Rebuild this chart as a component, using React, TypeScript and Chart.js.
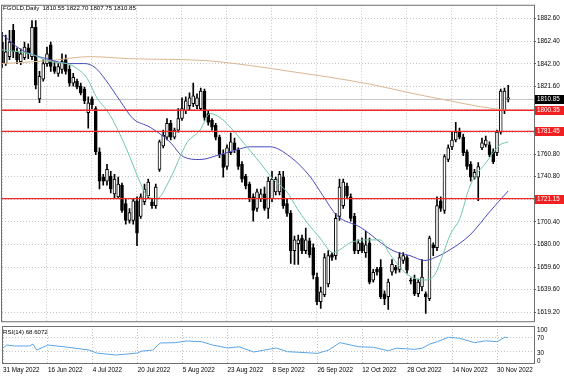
import React, { useEffect, useRef } from "react";
import { Chart, registerables } from "chart.js";

Chart.register(...registerables);

// ---------- DATA ----------
const opens = [
  1861.5, 1842.2, 1848.4, 1872.1, 1852.7, 1844.0, 1847.5, 1856.3, 1848.4, 1874.7,
  1810.6, 1828.2, 1842.2, 1858.9, 1839.6, 1833.4, 1837.0, 1845.7, 1837.0, 1824.7,
  1826.4, 1822.0, 1819.4, 1798.3, 1810.6, 1801.8, 1763.2, 1740.4, 1736.9, 1741.2,
  1725.4, 1722.8, 1733.3, 1716.7, 1701.7, 1701.7, 1719.3, 1705.3, 1718.4, 1723.7,
  1718.4, 1714.9, 1747.4, 1768.5, 1776.3, 1788.7, 1776.3, 1782.5, 1793.0, 1800.1,
  1804.5, 1806.2, 1804.5, 1801.8, 1817.6, 1797.4, 1791.3, 1786.9, 1776.3, 1760.6,
  1750.0, 1762.3, 1771.1, 1765.0, 1751.8, 1741.2, 1734.2, 1722.8, 1712.3, 1721.1,
  1725.4, 1712.3, 1721.1, 1727.2, 1727.2, 1740.4, 1716.7, 1707.9, 1674.5, 1680.7,
  1685.9, 1674.5, 1683.3, 1677.2, 1650.8, 1628.9, 1635.0, 1644.7, 1671.0, 1670.1,
  1705.3, 1714.9, 1732.5, 1722.8, 1705.3, 1674.5, 1681.5, 1672.8, 1681.5, 1648.2,
  1657.8, 1659.6, 1635.9, 1633.2, 1655.2, 1659.6, 1657.8, 1665.7, 1668.4, 1648.2,
  1649.1, 1635.9, 1642.0, 1635.9, 1631.5, 1679.8, 1677.2, 1719.3, 1710.5, 1756.2,
  1767.6, 1773.7, 1780.8, 1776.3, 1763.2, 1751.8, 1740.4, 1740.4, 1766.7, 1769.3,
  1769.3, 1763.2, 1762.3, 1780.8, 1800.1, 1810.55,
];
const highs = [
  1870.3, 1867.7, 1872.1, 1877.3, 1856.3, 1855.4, 1861.5, 1859.8, 1880.8, 1880.8,
  1835.2, 1845.7, 1857.1, 1861.5, 1844.0, 1842.2, 1851.0, 1850.1, 1840.5, 1833.4,
  1828.2, 1824.7, 1821.1, 1812.4, 1812.4, 1803.6, 1766.7, 1743.0, 1751.8, 1745.6,
  1743.0, 1740.4, 1735.1, 1721.1, 1712.3, 1721.1, 1722.8, 1725.4, 1734.2, 1738.6,
  1721.1, 1734.2, 1773.7, 1782.5, 1793.0, 1791.3, 1784.3, 1801.8, 1811.5, 1812.4,
  1815.9, 1824.7, 1815.0, 1820.3, 1819.4, 1800.1, 1793.0, 1788.7, 1778.1, 1765.0,
  1769.3, 1779.9, 1775.5, 1766.7, 1754.4, 1743.0, 1736.0, 1725.4, 1729.8, 1729.8,
  1731.6, 1740.4, 1745.6, 1740.4, 1745.6, 1745.6, 1721.1, 1710.5, 1687.7, 1688.6,
  1688.6, 1694.7, 1685.9, 1680.7, 1654.4, 1642.0, 1671.9, 1674.5, 1672.8, 1707.9,
  1738.6, 1738.6, 1735.1, 1725.4, 1707.9, 1684.2, 1685.9, 1692.1, 1685.9, 1657.8,
  1659.6, 1666.6, 1638.5, 1649.1, 1666.6, 1661.3, 1672.8, 1672.8, 1670.1, 1649.9,
  1652.6, 1649.1, 1666.6, 1637.6, 1687.7, 1681.5, 1722.8, 1722.8, 1760.6, 1769.3,
  1780.8, 1789.5, 1784.3, 1779.0, 1765.0, 1754.4, 1747.4, 1753.5, 1775.5, 1777.2,
  1772.0, 1765.8, 1782.5, 1819.4, 1820.3, 1822.7,
];
const lows = [
  1838.7, 1840.5, 1845.7, 1847.5, 1842.2, 1841.3, 1845.7, 1846.6, 1845.7, 1819.4,
  1807.1, 1826.4, 1839.6, 1835.2, 1833.4, 1830.8, 1833.4, 1832.6, 1822.0, 1822.0,
  1819.4, 1814.1, 1806.2, 1784.3, 1801.8, 1760.6, 1729.8, 1733.3, 1733.3, 1726.3,
  1721.1, 1721.1, 1708.7, 1698.2, 1699.1, 1698.2, 1678.9, 1703.5, 1715.8, 1721.1,
  1712.3, 1712.3, 1745.6, 1766.7, 1773.7, 1773.7, 1774.6, 1780.8, 1791.3, 1797.4,
  1800.1, 1803.6, 1801.8, 1800.1, 1791.3, 1786.9, 1782.5, 1773.7, 1757.9, 1740.4,
  1747.4, 1760.6, 1762.3, 1747.4, 1736.0, 1729.8, 1718.4, 1700.9, 1709.6, 1718.4,
  1710.5, 1703.5, 1718.4, 1724.6, 1724.6, 1712.3, 1705.3, 1663.1, 1662.2, 1662.2,
  1671.9, 1671.9, 1668.4, 1649.1, 1626.2, 1622.7, 1633.2, 1642.0, 1665.7, 1666.6,
  1701.7, 1712.3, 1721.1, 1700.9, 1671.9, 1671.9, 1672.8, 1668.4, 1644.7, 1646.4,
  1652.6, 1631.5, 1626.2, 1621.8, 1652.6, 1654.4, 1655.2, 1663.1, 1654.4, 1644.7,
  1634.1, 1633.2, 1638.5, 1618.3, 1629.7, 1670.1, 1674.5, 1709.6, 1707.9, 1754.4,
  1765.0, 1772.0, 1774.6, 1759.7, 1747.4, 1736.9, 1738.6, 1719.3, 1765.0, 1767.6,
  1758.8, 1752.6, 1759.7, 1779.0, 1797.4, 1807.75,
];
const closes = [
  1842.2, 1852.7, 1861.5, 1852.7, 1845.7, 1851.0, 1857.1, 1851.0, 1874.7, 1822.9,
  1830.8, 1842.2, 1851.0, 1839.6, 1835.2, 1839.6, 1844.0, 1835.2, 1824.7, 1829.9,
  1821.1, 1815.9, 1808.8, 1807.1, 1805.3, 1763.2, 1736.9, 1736.9, 1747.4, 1729.8,
  1738.6, 1734.2, 1710.5, 1701.7, 1708.7, 1719.3, 1690.3, 1722.8, 1729.8, 1736.0,
  1714.9, 1731.6, 1772.0, 1778.1, 1788.7, 1776.3, 1782.5, 1793.0, 1801.8, 1808.8,
  1811.5, 1813.2, 1811.5, 1817.6, 1793.9, 1789.5, 1785.1, 1776.3, 1760.6, 1749.1,
  1766.7, 1772.0, 1765.0, 1750.0, 1738.6, 1732.5, 1721.1, 1710.5, 1727.2, 1725.4,
  1712.3, 1736.9, 1738.6, 1738.6, 1743.0, 1714.9, 1707.9, 1674.5, 1684.2, 1684.2,
  1674.5, 1684.2, 1671.0, 1652.6, 1628.9, 1637.6, 1668.4, 1670.1, 1668.4, 1703.5,
  1731.6, 1736.0, 1723.7, 1703.5, 1674.5, 1681.5, 1674.5, 1679.8, 1646.4, 1655.2,
  1655.2, 1633.2, 1631.5, 1646.4, 1662.2, 1657.0, 1668.4, 1670.1, 1657.0, 1647.3,
  1635.9, 1646.4, 1650.8, 1633.2, 1685.9, 1677.2, 1714.9, 1712.3, 1758.8, 1766.7,
  1773.7, 1780.8, 1776.3, 1762.3, 1750.0, 1740.4, 1744.8, 1750.0, 1771.1, 1773.7,
  1760.6, 1754.4, 1780.8, 1817.6, 1817.6, 1810.85,
];

// moving averages (bar index, price)
const maSlowX = [0, 12.8, 23.5, 34.1, 54.1, 66.1, 76.8, 87.5, 98.1, 108.8, 119.5, 127.5, 135];
const maSlowY = [1842.2, 1844.9, 1848.4, 1846.6, 1844.9, 1840.5, 1835.2, 1829.9, 1823.8, 1815.9, 1808.8, 1803.6, 1800.1];

const maMidX = [0, 4.8, 12.8, 18.1, 22.1, 24.8, 27.5, 31.5, 34.9, 39.5, 44.8, 48.3, 52.8, 58.1, 62.7, 66.1, 71.5, 76.8, 82.1, 85.6, 89.3, 95.5, 104.3, 108.8, 112.8, 115.5, 119.5, 124.8, 130.1, 135];
const maMidY = [1868.6, 1855.4, 1845.7, 1842.2, 1842.2, 1838.7, 1828.2, 1808.8, 1793.0, 1785.1, 1771.9, 1758.8, 1756.2, 1760.6, 1765.0, 1767.6, 1767.6, 1758.8, 1741.2, 1723.7, 1706.1, 1695.6, 1674.5, 1670.1, 1665.7, 1668.4, 1675.4, 1688.6, 1709.6, 1728.1];

const maFastX = [0, 7.5, 12.8, 17.3, 20, 22.7, 25.3, 28, 29.6, 33.3, 36.8, 38.7, 41.3, 44.8, 49.3, 52.8, 55.5, 58.1, 61.6, 65.3, 68.8, 72.3, 76, 78.7, 81.3, 84.8, 88.3, 90.1, 92.8, 97.3, 100.8, 103.5, 108, 112.8, 115.5, 117.3, 119.5, 122.1, 124.8, 129.3, 132.8, 135];
const maFastY = [1854.5, 1851.0, 1844.0, 1842.2, 1837.8, 1829.0, 1811.5, 1800.1, 1791.3, 1765.0, 1736.0, 1723.7, 1721.1, 1738.6, 1771.1, 1782.5, 1797.4, 1793.9, 1782.5, 1767.6, 1753.5, 1738.6, 1727.2, 1712.3, 1699.9, 1685.9, 1672.8, 1675.4, 1681.5, 1684.2, 1684.2, 1671.0, 1653.5, 1648.2, 1653.5, 1668.4, 1688.6, 1703.5, 1732.5, 1754.4, 1769.3, 1772.0];

const rsiX = [0, 1, 3, 7, 8, 9, 12, 17, 23, 25, 30, 32, 36, 37, 40, 42, 46, 49, 53, 56, 60, 63, 67, 71, 73, 76, 79, 84, 87, 90, 95, 99, 103, 105, 110, 112, 114, 116, 119, 122, 126, 129, 132, 134, 135];
const rsiY = [40.5, 48.6, 46, 46, 51, 35, 48.6, 43, 35, 27, 21.6, 23, 27, 32, 35, 54, 55, 59.5, 57.6, 48.6, 40.5, 44, 29.7, 37, 40.5, 30.5, 29, 26, 35, 55, 44, 42.4, 33, 40, 37, 40, 51, 57.6, 69.5, 66.8, 55, 60, 57.6, 69.5, 68.6];

const dateTickIndex = [0, 12, 24, 36, 48, 60, 72, 84, 96, 108, 120, 132];
const dateTickLabels = ["31 May 2022", "16 Jun 2022", "4 Jul 2022", "20 Jul 2022", "5 Aug 2022", "23 Aug 2022", "8 Sep 2022", "26 Sep 2022", "12 Oct 2022", "28 Oct 2022", "14 Nov 2022", "30 Nov 2022"];

const priceTicks = [1882.6, 1862.4, 1842.0, 1821.6, 1801.2, 1780.8, 1760.8, 1740.8, 1720.8, 1700.4, 1680.0, 1659.6, 1639.6, 1619.2];
const priceTickLabels = ["1882.60", "1862.40", "1842.00", "1821.60", "", "", "1760.80", "1740.80", "", "1700.40", "1680.00", "1659.60", "1639.60", "1619.20"];

const levelPrices = [1800.35, 1781.45, 1721.15];
const levelLabels = ["1800.35", "1781.45", "1721.15"];
const lastPrice = 1810.85;
const lastPriceLabel = "1810.85";

const rsiTicks = [0, 30, 70, 100];
const rsiTickLabels = ["0", "30", "70", "100"];

const titleText = "FGOLD,Daily  1810.55 1822.70 1807.75 1810.85";
const rsiTitleText = "RSI(14) 68.6072";

// ---------- STYLE ----------
const FONT = '"Liberation Sans", Arial, sans-serif';
const AX_FONT_SIZE = 6.3;
const X_MIN = 0;
const X_MAX = 141.87;
const GRID = "#c4c4c4";
const FRAME = "#707070";

export default function App() {
  const mainRef = useRef<HTMLCanvasElement>(null);
  const rsiRef = useRef<HTMLCanvasElement>(null);

  useEffect(() => {
    const idx = opens.map((_, i) => i);
    const wickData = idx.map((i) => ({ x: i, y: [lows[i], highs[i]] }));
    const bodyData = idx.map((i) => ({ x: i, y: [opens[i], closes[i]] }));
    const bodyFill = idx.map((i) => (closes[i] >= opens[i] ? "#ffffff" : "#000000"));
    const pts = (xs: number[], ys: number[]) => xs.map((x, i) => ({ x, y: ys[i] }));

    const mainDeco = {
      id: "mainDeco",
      beforeDatasetsDraw(chart: any) {
        const { ctx, chartArea: a, scales } = chart;
        const py = Math.round(scales.y.getPixelForValue(lastPrice)) + 0.5;
        ctx.save();
        ctx.strokeStyle = "#c8c8c8";
        ctx.lineWidth = 1;
        ctx.beginPath();
        ctx.moveTo(a.left, py);
        ctx.lineTo(a.right, py);
        ctx.stroke();
        ctx.restore();
      },
      afterDatasetsDraw(chart: any) {
        const { ctx, chartArea: a, scales } = chart;
        ctx.save();
        ctx.strokeStyle = "#f02828";
        ctx.lineWidth = 1.4;
        levelPrices.forEach((p) => {
          const py = scales.y.getPixelForValue(p);
          ctx.beginPath();
          ctx.moveTo(a.left, py);
          ctx.lineTo(a.right, py);
          ctx.stroke();
        });
        ctx.restore();
      },
      afterDraw(chart: any) {
        const { ctx, chartArea: a, scales } = chart;
        ctx.save();
        ctx.strokeStyle = FRAME;
        ctx.lineWidth = 1;
        ctx.strokeRect(a.left - 0.5, a.top + 0.5, a.right - a.left + 1, a.bottom - a.top);
        ctx.font = `${AX_FONT_SIZE}px ${FONT}`;
        ctx.textBaseline = "middle";
        ctx.textAlign = "left";
        const box = (p: number, label: string, bg: string) => {
          const py = scales.y.getPixelForValue(p);
          ctx.fillStyle = bg;
          ctx.fillRect(a.right + 1, Math.round(py) - 4, chart.width - a.right - 1, 9);
          ctx.fillStyle = "#ffffff";
          ctx.fillText(label, a.right + 3, Math.round(py) + 0.5);
        };
        box(lastPrice, lastPriceLabel, "#000000");
        levelPrices.forEach((p, i) => box(p, levelLabels[i], "#f02020"));
        ctx.fillStyle = "#000";
        ctx.font = `6.1px ${FONT}`;
        ctx.fillText(titleText, 3, 8);
        ctx.restore();
      },
    };

    const mainChart = new Chart(mainRef.current as HTMLCanvasElement, {
      type: "bar",
      data: {
        datasets: [
          {
            type: "bar",
            data: wickData as any,
            backgroundColor: "#000000",
            borderWidth: 0,
            barThickness: 1,
            grouped: false,
            order: 6,
          } as any,
          {
            type: "bar",
            data: bodyData as any,
            backgroundColor: bodyFill,
            borderColor: "#000000",
            borderWidth: 1,
            borderSkipped: false,
            barThickness: 3,
            minBarLength: 1,
            grouped: false,
            order: 5,
          } as any,
          {
            type: "line",
            data: pts(maSlowX, maSlowY) as any,
            borderColor: "#dcb690",
            borderWidth: 1,
            pointRadius: 0,
            cubicInterpolationMode: "monotone",
            order: 3,
          } as any,
          {
            type: "line",
            data: pts(maMidX, maMidY) as any,
            borderColor: "#4b4bc0",
            borderWidth: 1,
            pointRadius: 0,
            cubicInterpolationMode: "monotone",
            order: 2,
          } as any,
          {
            type: "line",
            data: pts(maFastX, maFastY) as any,
            borderColor: "#72c8a2",
            borderWidth: 1,
            pointRadius: 0,
            cubicInterpolationMode: "monotone",
            order: 1,
          } as any,
        ],
      },
      options: {
        responsive: false,
        animation: false,
        devicePixelRatio: 1,
        layout: { padding: { left: 2, top: 2, right: 0, bottom: 1 } },
        plugins: { legend: { display: false }, tooltip: { enabled: false } },
        scales: {
          x: {
            type: "linear",
            min: X_MIN,
            max: X_MAX,
            offset: false,
            afterBuildTicks: (s: any) => {
              s.ticks = dateTickIndex.map((v) => ({ value: v }));
            },
            afterFit: (s: any) => {
              s.height = 0;
            },
            ticks: { display: false },
            grid: { color: GRID, offset: false, drawTicks: false, lineWidth: 1 },
            border: { display: false, dash: [1, 2] },
          },
          y: {
            type: "linear",
            position: "right",
            min: 1611.3,
            max: 1894.9,
            afterBuildTicks: (s: any) => {
              s.ticks = priceTicks.map((v) => ({ value: v }));
            },
            afterFit: (s: any) => {
              s.width = 30;
            },
            ticks: {
              callback: (_v: any, i: number) => priceTickLabels[i],
              font: { family: FONT, size: AX_FONT_SIZE },
              color: "#000",
              padding: 1,
              autoSkip: false,
            },
            grid: { color: GRID, drawTicks: true, tickLength: 2, tickColor: "#555", tickBorderDash: [] } as any,
            border: { display: false, dash: [1, 2] },
          },
        },
      } as any,
      plugins: [mainDeco],
    });

    const rsiDeco = {
      id: "rsiDeco",
      afterDraw(chart: any) {
        const { ctx, chartArea: a, scales } = chart;
        ctx.save();
        ctx.strokeStyle = FRAME;
        ctx.lineWidth = 1;
        ctx.strokeRect(a.left - 0.5, a.top + 0.5, a.right - a.left + 1, a.bottom - a.top);
        ctx.fillStyle = "#000";
        ctx.font = `6.1px ${FONT}`;
        ctx.textBaseline = "middle";
        ctx.textAlign = "left";
        ctx.fillText(rsiTitleText, 3, 6);
        ctx.font = `${AX_FONT_SIZE}px ${FONT}`;
        rsiTicks.forEach((v, i) => {
          let py = scales.y.getPixelForValue(v) + 1.3;
          py = Math.max(a.top + 4, Math.min(a.bottom - 1.5, py));
          ctx.fillText(rsiTickLabels[i], a.right + 3, py);
        });
        ctx.restore();
      },
    };

    const rsiChart = new Chart(rsiRef.current as HTMLCanvasElement, {
      type: "line",
      data: {
        datasets: [
          {
            data: pts(rsiX, rsiY) as any,
            borderColor: "#5aa6e6",
            borderWidth: 1,
            pointRadius: 0,
            tension: 0,
          },
        ],
      },
      options: {
        responsive: false,
        animation: false,
        devicePixelRatio: 1,
        layout: { padding: { left: 2, top: 0, right: 0, bottom: 0 } },
        plugins: { legend: { display: false }, tooltip: { enabled: false } },
        scales: {
          x: {
            type: "linear",
            min: X_MIN,
            max: X_MAX,
            offset: false,
            afterBuildTicks: (s: any) => {
              s.ticks = dateTickIndex.map((v) => ({ value: v }));
            },
            afterFit: (s: any) => {
              s.height = 15;
            },
            ticks: {
              callback: (_v: any, i: number) => dateTickLabels[i],
              font: { family: FONT, size: AX_FONT_SIZE },
              color: "#000",
              align: "start",
              maxRotation: 0,
              minRotation: 0,
              autoSkip: false,
              padding: 3,
            },
            grid: { color: GRID, offset: false, drawTicks: false, lineWidth: 1 },
            border: { display: false, dash: [1, 2] },
          },
          y: {
            type: "linear",
            position: "right",
            min: 0,
            max: 100,
            afterBuildTicks: (s: any) => {
              s.ticks = rsiTicks.map((v) => ({ value: v }));
            },
            afterFit: (s: any) => {
              s.width = 30;
            },
            ticks: { display: false },
            grid: {
              color: (c: any) => (c.tick && (c.tick.value === 30 || c.tick.value === 70) ? GRID : "rgba(0,0,0,0)"),
              drawTicks: false,
            },
            border: { display: false, dash: [1, 2] },
          },
        },
      } as any,
      plugins: [rsiDeco],
    });

    return () => {
      mainChart.destroy();
      rsiChart.destroy();
    };
  }, []);

  return (
    <div style={{ position: "fixed", left: 0, top: 0, width: 564, height: 378, background: "#ffffff" }}>
      <canvas
        ref={mainRef}
        width={564}
        height={326}
        style={{ position: "absolute", left: 0, top: 0, width: 564, height: 326 }}
      />
      <canvas
        ref={rsiRef}
        width={564}
        height={52}
        style={{ position: "absolute", left: 0, top: 326, width: 564, height: 52 }}
      />
    </div>
  );
}
